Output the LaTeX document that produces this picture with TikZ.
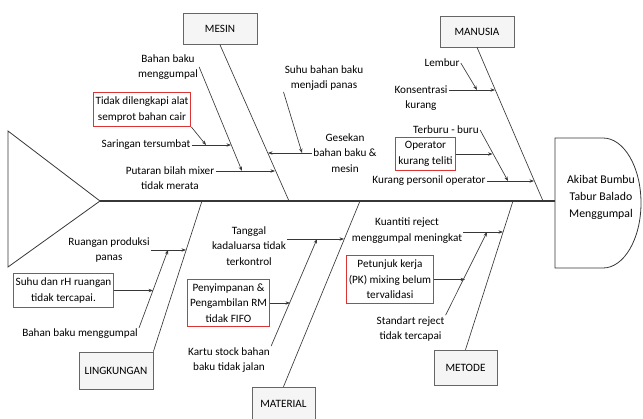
\documentclass[tikz,border=0pt]{standalone}
\usepackage{fontspec}
\setmainfont{Carlito}
\usetikzlibrary{arrows.meta, calc}
\definecolor{redline}{RGB}{218,52,52}
\definecolor{boneline}{RGB}{55,55,55}

\begin{document}
\begin{tikzpicture}[x=1pt, y=-1pt, >={Stealth[length=4.5pt,width=3.4pt]},
    font=\fontsize{11.2}{15.5}\selectfont, line width=0.65pt,
    category/.style={draw=black!60, fill=black!4, minimum width=74pt, minimum height=31pt, inner sep=0pt},
    cause/.style={align=center, inner sep=1pt},
    redcause/.style={cause, draw=redline, line width=0.9pt, inner xsep=2.5pt, inner ysep=4.5pt},
    bone/.style={draw=boneline},
    link/.style={->, draw=boneline},
    spine/.style={draw=boneline, line width=1.5pt}]
    \useasboundingbox (0,0) rectangle (643,418);

    % Tail and spine
    \coordinate (tailTip) at (100,201);
    \coordinate (headL) at (555,201);
    \draw[bone, line width=0.8pt] (8,131) -- (tailTip) -- (8,267) -- cycle;
    \draw[spine] (tailTip) -- (headL);

    % Effect
    \draw[bone, line width=0.8pt] (555,138) -- (603,138) arc[start angle=-90, end angle=90, x radius=38, y radius=65] -- (555,268) -- cycle;
    \node[cause, font=\fontsize{11.8}{17}\selectfont] (effect) at (601,197) {Akibat Bumbu\\Tabur Balado\\Menggumpal};

    % Mesin
    \node[category] (mesin) at (220,29) {MESIN};
    \coordinate (sMesin) at (289,201);
    \draw[bone] (mesin.south) -- (sMesin);
    \node[cause] (gesekan) at (345,153) {Gesekan\\bahan baku \&\\mesin};
    \coordinate (mGesekan) at (268,153);
    \draw[link] (gesekan.west) -- (mGesekan);
    \node[cause] (suhuBahan) at (324,78) {Suhu bahan baku\\menjadi panas};
    \coordinate (gSuhu) at (302,153);
    \draw[link] (suhuBahan.south west) -- (gSuhu);
    \node[cause] (putaran) at (170,178) {Putaran bilah mixer\\tidak merata};
    \coordinate (mPutaran) at (275,171);
    \draw[link] (putaran.east |- mPutaran) -- (mPutaran);
    \node[cause] (gumpalM) at (168,67) {Bahan baku\\menggumpal};
    \coordinate (pGumpal) at (242,171);
    \draw[link] (gumpalM.east) -- (pGumpal);
    \node[cause] (saringan) at (146,145) {Saringan tersumbat};
    \coordinate (gSaringan) at (231,145);
    \draw[link] (saringan.east) -- (gSaringan);
    \node[redcause] (semprot) at (142,109.5) {Tidak dilengkapi alat\\semprot bahan cair};
    \coordinate (sSemprot) at (206,145);
    \draw[link] (semprot.south east) -- (sSemprot);

    % Manusia
    \node[category] (manusia) at (477,31.5) {MANUSIA};
    \coordinate (sManusia) at (543,201);
    \draw[bone] (manusia.south) -- (sManusia);
    \node[cause] (konsentrasi) at (421,98) {Konsentrasi\\kurang};
    \coordinate (mKonsentrasi) at (495,90);
    \draw[link] (konsentrasi.east |- mKonsentrasi) -- (mKonsentrasi);
    \node[cause] (lembur) at (442,63) {Lembur};
    \coordinate (kLembur) at (477,90);
    \draw[link] (lembur.east) -- (kLembur);
    \node[cause] (personil) at (429,181) {Kurang personil operator};
    \coordinate (mPersonil) at (534,181);
    \draw[link] (personil.east) -- (mPersonil);
    \node[cause] (terburu) at (446,130) {Terburu - buru};
    \coordinate (pTerburu) at (508,181);
    \draw[link] (terburu.east) -- (pTerburu);
    \node[redcause] (operator) at (425.5,154) {Operator\\kurang teliti};
    \coordinate (tOperator) at (492.5,154);
    \draw[link] (operator.east) -- (tOperator);

    % Lingkungan
    \node[category, minimum height=37pt] (lingkungan) at (116,370.5) {LINGKUNGAN};
    \coordinate (sLingkungan) at (202,201);
    \draw[bone] (lingkungan.north east) -- (sLingkungan);
    \node[cause] (ruangan) at (109,250) {Ruangan produksi\\panas};
    \coordinate (lRuangan) at (186,250);
    \draw[link] (ruangan.east) -- (lRuangan);
    \node[cause] (gumpalL) at (80,334) {Bahan baku menggumpal};
    \coordinate (rGumpal) at (168,250);
    \draw[link] (gumpalL.north east) -- (rGumpal);
    \node[redcause] (suhuRuang) at (63.5,290.5) {Suhu dan rH ruangan\\tidak tercapai.};
    \coordinate (gSuhuRuang) at (153,290.5);
    \draw[link] (suhuRuang.east) -- (gSuhuRuang);

    % Material
    \node[category, minimum width=63pt, minimum height=34pt] (material) at (283.5,404) {MATERIAL};
    \coordinate (sMaterial) at (360,201);
    \draw[bone] (material.north) -- (sMaterial);
    \node[cause] (tanggal) at (249,246) {Tanggal\\kadaluarsa tidak\\terkontrol};
    \coordinate (mTanggal) at (344,239);
    \draw[link] (tanggal.east |- mTanggal) -- (mTanggal);
    \node[cause] (kartu) at (229,360) {Kartu stock bahan\\baku tidak jalan};
    \coordinate (tKartu) at (317,239);
    \draw[link] (kartu.north east) -- (tKartu);
    \node[redcause] (fifo) at (228.5,303) {Penyimpanan \&\\Pengambilan RM\\tidak FIFO};
    \coordinate (kFifo) at (290,303);
    \draw[link] (fifo.east) -- (kFifo);

    % Metode
    \node[category, minimum width=63pt, minimum height=35pt] (metode) at (465.5,367.5) {METODE};
    \coordinate (sMetode) at (513,201);
    \draw[bone] (metode.north) -- (sMetode);
    \node[cause] (kuantiti) at (407,230.5) {Kuantiti reject\\menggumpal meningkat};
    \coordinate (mKuantiti) at (503,232);
    \draw[link] (kuantiti.east |- mKuantiti) -- (mKuantiti);
    \node[cause] (standart) at (410.5,329) {Standart reject\\tidak tercapai};
    \coordinate (kStandart) at (487,232);
    \draw[link] (standart.north east) -- (kStandart);
    \node[redcause] (petunjuk) at (390,279.5) {Petunjuk kerja\\(PK) mixing belum\\tervalidasi};
    \coordinate (sPetunjuk) at (465,279.5);
    \draw[link] (petunjuk.east) -- (sPetunjuk);
  \end{tikzpicture}
\end{document}
